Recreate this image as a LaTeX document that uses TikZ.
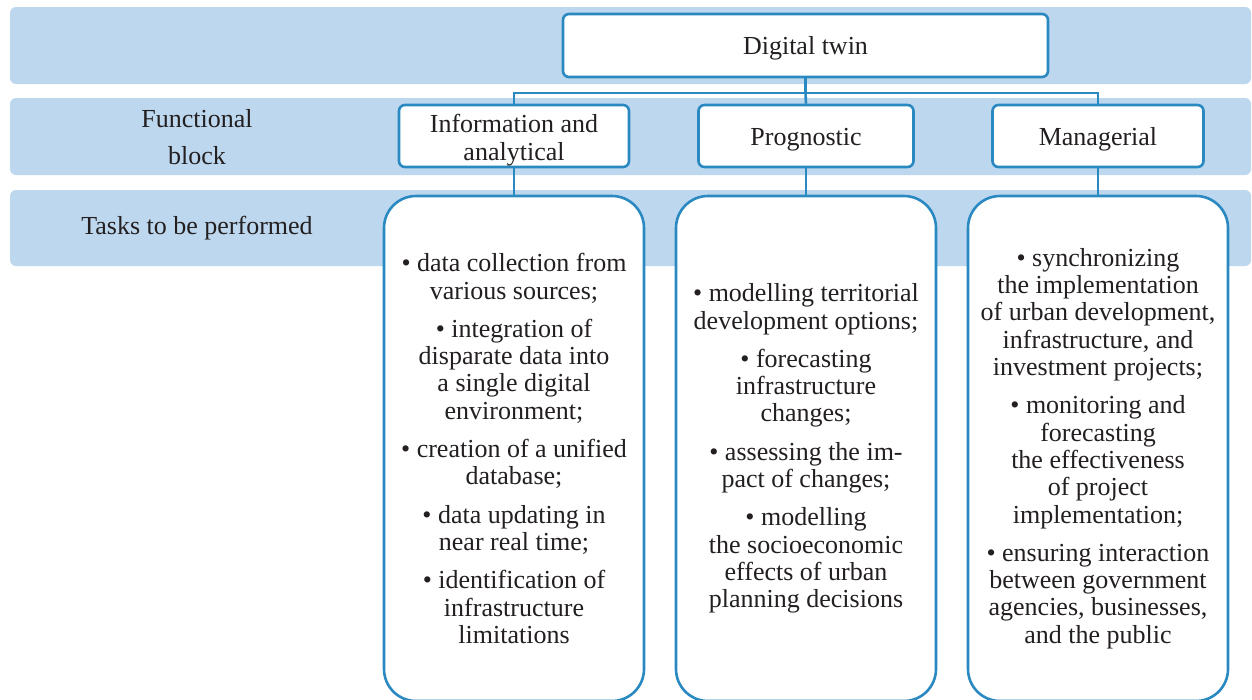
\documentclass[tikz,border=0pt]{standalone}
\usepackage{fontspec}
\setmainfont{Liberation Serif}
\usetikzlibrary{positioning}
\definecolor{bandblue}{HTML}{BDD7EE}
\definecolor{edgeblue}{HTML}{2A89C0}
\definecolor{ink}{HTML}{231F20}
\begin{document}
\begin{tikzpicture}[x=1pt,y=-1pt,
  band/.style={fill=bandblue,draw=none,rounded corners=6pt},
  headbox/.style={draw=edgeblue,line width=2.6pt,fill=white,rounded corners=6pt,
    align=center,inner sep=0pt,text=ink},
  taskbox/.style={draw=edgeblue,line width=2.6pt,fill=white,rounded corners=32pt,
    align=center,inner sep=0pt,minimum width=260pt,minimum height=505pt,text=ink},
  rowlabel/.style={align=center,text=ink},
  link/.style={draw=edgeblue,line width=2.6pt},
  font=\fontsize{26}{27.3}\selectfont]
\useasboundingbox (0,0) rectangle (1252,699);

% horizontal bands
\fill[band] (10,7) rectangle (1251,84);
\fill[band] (10,98) rectangle (1251,175);
\fill[band] (10,190) rectangle (1251,266);

% row labels
\node[rowlabel] (lblblock) at (197,137) {Functional\\[10pt]block};
\node[rowlabel] (lbltasks) at (197,228) {Tasks to be performed};

% top level
\node[headbox,minimum width=485pt,minimum height=63pt] (dt) at (805.5,45.5) {\rule{0pt}{24pt}Digital twin};

% functional blocks
\node[headbox,minimum width=230pt,minimum height=62pt] (info) at (514,136)
  {\rule{0pt}{21pt}Information and\\\raisebox{0pt}[\height][0pt]{analytical}};
\node[headbox,minimum width=215pt,minimum height=62pt] (prog) at (806,136) {\rule{0pt}{24pt}Prognostic};
\node[headbox,minimum width=211pt,minimum height=62pt] (man) at (1098,136) {\rule{0pt}{24pt}Managerial};

% task boxes
\node[taskbox] (t1) at (514,448.5) {%
  • data collection from\\various sources;\\[11pt]
  • integration of\\disparate data into\\a single digital\\environment;\\[11pt]
  • creation of a unified\\database;\\[11pt]
  • data updating in\\near real time;\\[11pt]
  • identification of\\infrastructure\\limitations};
\node[taskbox] (t2) at (806,448.5) {%
  • modelling territorial\\development options;\\[11pt]
  • forecasting\\infrastructure\\changes;\\[11pt]
  • assessing the im-\\pact of changes;\\[11pt]
  • modelling\\the socioeconomic\\effects of urban\\planning decisions};
\node[taskbox] (t3) at (1098,448.5) {%
  • synchronizing\\the implementation\\of urban development,\\infrastructure, and\\investment projects;\\[11pt]
  • monitoring and\\forecasting\\the effectiveness\\of project\\implementation;\\[11pt]
  • ensuring interaction\\between government\\agencies, businesses,\\and the public};

% connectors
\coordinate (bus) at ([yshift=-14.5pt]dt.south);
\path[link] (dt.south) -- (bus);
\path[link] (bus) -| (info.north);
\path[link] (bus) -| (man.north);
\path[link] (bus) -- (prog.north);
\path[link] (info.south) -- (t1.north);
\path[link] (prog.south) -- (t2.north);
\path[link] (man.south) -- (t3.north);
\end{tikzpicture}
\end{document}
